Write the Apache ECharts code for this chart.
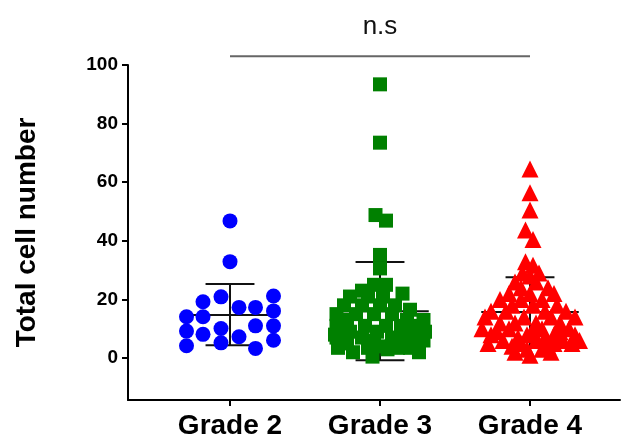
<!DOCTYPE html>
<html>
<head>
<meta charset="utf-8">
<script src="https://cdn.jsdelivr.net/npm/echarts@6/dist/echarts.min.js"></script>
<style>
html,body{margin:0;padding:0;background:#fff;}
#chart{width:624px;height:441px;}
</style>
</head>
<body>
<div id="chart"></div>
<script>
// ---- data ----
var categories = ['Grade 2', 'Grade 3', 'Grade 4'];
var yTicks = [0, 20, 40, 60, 80, 100];

var grade2Values = [46.8, 32.9, 20.9, 19.2, 21.2, 17.3, 17.3, 16.1, 14.1, 14.1, 11.0, 11.0, 10.1, 9.2, 8.1, 7.3, 6.1, 4.2, 5.2, 3.3];
var grade2Jitter = [0, 0, -0.06, -0.18, 0.29, 0.06, 0.17, 0.29, -0.29, -0.18, 0.17, 0.29, -0.06, -0.29, -0.18, 0.06, 0.29, -0.29, -0.06, 0.17];

var grade3Values = [93.4, 73.5, 48.8, 46.9, 35.2, 30.6,
  25, 25, 23, 22, 21, 21, 21, 18, 18, 18, 18, 16.5, 15, 15, 15, 15,
  13, 13, 13, 11, 11, 11, 11, 11, 9, 9, 9, 9, 7, 7, 7, 7, 6, 6, 5, 5,
  3.5, 3.5, 3.5, 3.5, 2, 2, 0.5, 4, 8, 3];
var grade3Jitter = [0, 0, -0.03, 0.04, 0, 0,
  -0.04, 0.04, -0.12, 0.15, -0.2, -0.08, 0.02, -0.24, -0.12, 0.0, 0.1, 0.2, -0.29, -0.16, -0.04, 0.08,
  0.29, 0.18, -0.22, -0.29, -0.1, 0.04, 0.14, 0.26, -0.2, -0.02, 0.22, 0.3, -0.29, -0.12, 0.08, 0.16, 0.29, -0.04, -0.22, 0.22,
  -0.28, -0.08, 0.12, 0.2, -0.18, 0.26, -0.05, 0.0, -0.3, 0.05];

var grade4Values = [64.5, 56.4, 50.5, 43.7, 40.5, 32.9, 31.7,
  29, 29, 28, 26, 26, 24, 24, 22, 22, 22, 20, 20, 20, 18, 18, 18,
  16, 16, 16, 16, 14, 14, 14, 14, 12, 12, 12, 12, 10, 10, 10, 10,
  8, 8, 8, 8, 7, 7, 6, 6, 6, 6, 4, 4, 3, 3, 1,
  5, 5, 5, 5, 9, 9, 9, 2, 2];
var grade4Jitter = [0, 0, 0, -0.03, 0.02, -0.03, 0.02,
  -0.05, 0.06, 0.0, -0.1, 0.04, -0.06, 0.12, -0.14, 0.0, 0.16, -0.2, -0.06, 0.08, -0.12, 0.02, 0.18,
  -0.26, -0.16, 0.1, 0.24, -0.3, -0.04, 0.14, 0.3, -0.2, -0.1, 0.04, 0.2, -0.32, -0.14, 0.08, 0.26,
  -0.26, -0.02, 0.16, 0.3, -0.08, 0.1, -0.18, 0.04, 0.22, 0.33, -0.12, 0.12, -0.02, 0.08, 0.0,
  -0.28, -0.06, 0.16, 0.28, -0.22, 0.02, 0.2, -0.1, 0.14];

var means = [14.7, 16.0, 15.7];
var sdLow = [4.4, -0.7, 3.8];
var sdHigh = [25.3, 32.8, 27.6];

var sigPair = [1, 3];
var sigLevel = 103;
var sigTextLevel = 113;
var sigLabel = 'n.s';

// ---- build ----
function pts(vals, jit, idx) {
  return vals.map(function (v, i) { return [idx + jit[i], v]; });
}
var errData = categories.map(function (c, i) { return [i + 1, means[i], sdLow[i], sdHigh[i]]; });

var chart = echarts.init(document.getElementById('chart'), null, {renderer: 'canvas'});
var FONT = '"Liberation Sans", Arial, sans-serif';

var option = {
  animation: false,
  backgroundColor: '#ffffff',
  grid: {left: 128, right: 4, top: 65, bottom: 41, containLabel: false},
  xAxis: {
    type: 'value', min: 0.32, max: 3.6,
    splitLine: {show: false},
    axisLine: {show: true, onZero: false, lineStyle: {color: '#000', width: 2}},
    axisTick: {show: true, length: 6, lineStyle: {color: '#000', width: 2}, customValues: [1, 2, 3]},
    axisLabel: {
      customValues: [1, 2, 3], margin: 12,
      formatter: function (v) { return categories[Math.round(v) - 1] || ''; },
      color: '#000', fontSize: 28, fontWeight: 'bold', fontFamily: FONT
    }
  },
  yAxis: {
    type: 'value', min: -14.3, max: 100,
    name: 'Total cell number', nameLocation: 'middle', nameGap: 87,
    nameTextStyle: {color: '#000', fontSize: 28, fontWeight: 'bold', fontFamily: FONT},
    splitLine: {show: false},
    axisLine: {show: true, onZero: false, lineStyle: {color: '#000', width: 2}},
    axisTick: {show: true, length: 6, lineStyle: {color: '#000', width: 2}, customValues: yTicks},
    axisLabel: {customValues: yTicks, margin: 10, color: '#000', fontSize: 19, fontWeight: 'bold', fontFamily: FONT}
  },
  series: [
    {type: 'custom', data: errData, z: 1, clip: false,
      renderItem: function (params, api) {
        var x = api.value(0);
        var pm = api.coord([x, api.value(1)]);
        var pl = api.coord([x, api.value(2)]);
        var ph = api.coord([x, api.value(3)]);
        var wm = api.size([0.325, 0])[0];
        var wc = api.size([0.163, 0])[0];
        var st = {stroke: '#111', lineWidth: 2};
        return {type: 'group', children: [
          {type: 'line', shape: {x1: pm[0] - wm, y1: pm[1], x2: pm[0] + wm, y2: pm[1]}, style: st},
          {type: 'line', shape: {x1: pl[0], y1: pl[1], x2: ph[0], y2: ph[1]}, style: st},
          {type: 'line', shape: {x1: ph[0] - wc, y1: ph[1], x2: ph[0] + wc, y2: ph[1]}, style: st},
          {type: 'line', shape: {x1: pl[0] - wc, y1: pl[1], x2: pl[0] + wc, y2: pl[1]}, style: st}
        ]};
      }
    },
    {type: 'scatter', name: categories[0], data: pts(grade2Values, grade2Jitter, 1),
      symbol: 'circle', symbolSize: 15, itemStyle: {color: '#0000ff', opacity: 1}, z: 2},
    {type: 'scatter', name: categories[1], data: pts(grade3Values, grade3Jitter, 2),
      symbol: 'rect', symbolSize: 14, itemStyle: {color: '#008000', opacity: 1}, z: 2},
    {type: 'scatter', name: categories[2], data: pts(grade4Values, grade4Jitter, 3),
      symbol: 'triangle', symbolSize: 17, itemStyle: {color: '#ff0000', opacity: 1}, z: 2}
  ]
};
chart.setOption(option);

var a = chart.convertToPixel({xAxisIndex: 0, yAxisIndex: 0}, [sigPair[0], sigLevel]);
var b = chart.convertToPixel({xAxisIndex: 0, yAxisIndex: 0}, [sigPair[1], sigLevel]);
var t = chart.convertToPixel({xAxisIndex: 0, yAxisIndex: 0}, [(sigPair[0] + sigPair[1]) / 2, sigTextLevel]);
chart.setOption({
  graphic: [
    {type: 'line', shape: {x1: a[0], y1: a[1], x2: b[0], y2: b[1]}, style: {stroke: '#666', lineWidth: 2}},
    {type: 'text', x: t[0], y: t[1], style: {text: sigLabel, fontSize: 26, fontFamily: FONT, fill: '#111', align: 'center', verticalAlign: 'middle'}}
  ]
});
</script>
</body>
</html>
